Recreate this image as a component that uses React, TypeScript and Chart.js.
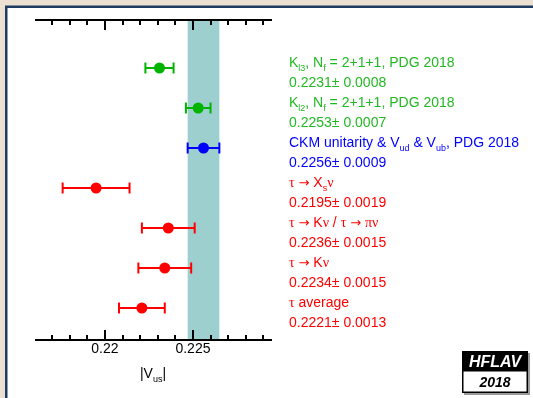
import React, { useEffect, useRef } from "react";
import { Chart, registerables } from "chart.js";

Chart.register(...registerables);

type Seg = { t: string; sub?: boolean; f?: "g" | "a" };

const measurementLabels: Seg[][] = [
  [{ t: "K" }, { t: "l3", sub: true }, { t: ", N" }, { t: "f", sub: true }, { t: " = 2+1+1, PDG 2018" }],
  [{ t: "K" }, { t: "l2", sub: true }, { t: ", N" }, { t: "f", sub: true }, { t: " = 2+1+1, PDG 2018" }],
  [{ t: "CKM unitarity & V" }, { t: "ud", sub: true }, { t: " & V" }, { t: "ub", sub: true }, { t: ", PDG 2018" }],
  [{ t: "τ", f: "g" }, { t: " " }, { t: "→", f: "a" }, { t: " X" }, { t: "s", sub: true }, { t: "ν", f: "g" }],
  [{ t: "τ", f: "g" }, { t: " " }, { t: "→", f: "a" }, { t: " K" }, { t: "ν", f: "g" }, { t: " / " }, { t: "τ", f: "g" }, { t: " " }, { t: "→", f: "a" }, { t: " " }, { t: "πν", f: "g" }],
  [{ t: "τ", f: "g" }, { t: " " }, { t: "→", f: "a" }, { t: " K" }, { t: "ν", f: "g" }],
  [{ t: "τ", f: "g" }, { t: " average" }],
];
const vusValues = [0.2231, 0.2253, 0.2256, 0.2195, 0.2236, 0.2234, 0.2221];
const vusErrors = [0.0008, 0.0007, 0.0009, 0.0019, 0.0015, 0.0015, 0.0013];
const markerColors = ["#00b400", "#00b400", "#0000ff", "#ff0000", "#ff0000", "#ff0000", "#ff0000"];
const textColors = ["#22b822", "#22b822", "#0000ff", "#ff0000", "#ff0000", "#ff0000", "#ff0000"];
const bandIndex = 2;
const majorTicks = [0.22, 0.225];
const minorTicks = [0.217, 0.218, 0.219, 0.221, 0.222, 0.223, 0.224, 0.226, 0.227, 0.228, 0.229];
const tickLabels = ["0.22", "0.225"];

const FONT = '"Liberation Sans", Arial, sans-serif';
const GREEK = '"Liberation Serif", serif';
const ARROW = '"DejaVu Sans", sans-serif';

function segFont(s: Seg, size: number) {
  const sz = s.sub ? Math.round(size * 0.65) : size;
  if (s.f === "g") return `${sz}px ${GREEK}`;
  if (s.f === "a") return `${sz - 1}px ${ARROW}`;
  return `${sz}px ${FONT}`;
}

function drawRich(ctx: CanvasRenderingContext2D, segs: Seg[], x: number, y: number, size: number, align: "left" | "center" = "left") {
  let total = 0;
  for (const s of segs) {
    ctx.font = segFont(s, size);
    total += ctx.measureText(s.t).width;
  }
  let cx = align === "center" ? x - total / 2 : x;
  ctx.textAlign = "left";
  ctx.textBaseline = "alphabetic";
  for (const s of segs) {
    ctx.font = segFont(s, size);
    ctx.fillText(s.t, cx, s.sub ? y + 4 : y);
    cx += ctx.measureText(s.t).width;
  }
}

const decorPlugin = {
  id: "decor",
  beforeDraw(chart: any) {
    const ctx = chart.ctx as CanvasRenderingContext2D;
    const { width, height } = chart;
    ctx.save();
    ctx.fillStyle = "#ebe0d2";
    ctx.fillRect(0, 0, width, height);
    ctx.fillStyle = "#1f3b62";
    ctx.fillRect(5, 5.5, width - 5, height - 5.5);
    ctx.fillStyle = "#ffffff";
    ctx.fillRect(7.5, 8, width - 7.5, height - 8);
    ctx.restore();
  },
  beforeDatasetsDraw(chart: any) {
    const ctx = chart.ctx as CanvasRenderingContext2D;
    const xs = chart.scales.x;
    const ys = chart.scales.y;
    const area = chart.chartArea;
    ctx.save();
    const b0 = xs.getPixelForValue(vusValues[bandIndex] - vusErrors[bandIndex]);
    const b1 = xs.getPixelForValue(vusValues[bandIndex] + vusErrors[bandIndex]);
    ctx.fillStyle = "#9dcfcf";
    ctx.fillRect(b0, area.top, b1 - b0, area.bottom - area.top);
    ctx.strokeStyle = "#000";
    ctx.lineWidth = 2;
    ctx.beginPath();
    ctx.moveTo(area.left, area.top);
    ctx.lineTo(area.right, area.top);
    ctx.moveTo(area.left, area.bottom);
    ctx.lineTo(area.right, area.bottom);
    for (const v of majorTicks) {
      const px = Math.round(xs.getPixelForValue(v));
      ctx.moveTo(px, area.top);
      ctx.lineTo(px, area.top + 10);
      ctx.moveTo(px, area.bottom);
      ctx.lineTo(px, area.bottom - 10);
    }
    for (const v of minorTicks) {
      const px = Math.round(xs.getPixelForValue(v));
      ctx.moveTo(px, area.top);
      ctx.lineTo(px, area.top + 5);
      ctx.moveTo(px, area.bottom);
      ctx.lineTo(px, area.bottom - 5);
    }
    ctx.stroke();
    vusValues.forEach((v, i) => {
      const y = ys.getPixelForValue(i);
      const xl = xs.getPixelForValue(v - vusErrors[i]);
      const xr = xs.getPixelForValue(v + vusErrors[i]);
      ctx.strokeStyle = markerColors[i];
      ctx.lineWidth = 2;
      ctx.beginPath();
      ctx.moveTo(xl, y);
      ctx.lineTo(xr, y);
      ctx.moveTo(xl, y - 5.5);
      ctx.lineTo(xl, y + 5.5);
      ctx.moveTo(xr, y - 5.5);
      ctx.lineTo(xr, y + 5.5);
      ctx.stroke();
    });
    ctx.restore();
  },
  afterDraw(chart: any) {
    const ctx = chart.ctx as CanvasRenderingContext2D;
    const xs = chart.scales.x;
    const ys = chart.scales.y;
    const area = chart.chartArea;
    ctx.save();
    ctx.fillStyle = "#000";
    ctx.font = `14px ${FONT}`;
    ctx.textAlign = "center";
    ctx.textBaseline = "alphabetic";
    majorTicks.forEach((v, i) => {
      ctx.fillText(tickLabels[i], xs.getPixelForValue(v), area.bottom + 13);
    });
    drawRich(ctx, [{ t: "|V" }, { t: "us", sub: true }, { t: "|" }], 153, 378, 14, "center");
    vusValues.forEach((v, i) => {
      const y = ys.getPixelForValue(i);
      ctx.fillStyle = textColors[i];
      drawRich(ctx, measurementLabels[i], 289, y - 1, 14);
      drawRich(ctx, [{ t: `${v.toFixed(4)}± ${vusErrors[i].toFixed(4)}` }], 289, y + 19, 14);
    });
    ctx.fillStyle = "#9a9a9a";
    ctx.fillRect(464, 353, 66, 42);
    ctx.fillStyle = "#000";
    ctx.fillRect(462, 351, 66, 20);
    ctx.fillStyle = "#fff";
    ctx.fillRect(463, 371, 64, 21);
    ctx.strokeStyle = "#000";
    ctx.lineWidth = 1.5;
    ctx.strokeRect(462.75, 370.75, 64.5, 21.5);
    ctx.textAlign = "center";
    ctx.font = `italic bold 16px ${FONT}`;
    ctx.fillStyle = "#fff";
    ctx.fillText("HFLAV", 495, 367);
    ctx.font = `italic bold 14px ${FONT}`;
    ctx.fillStyle = "#000";
    ctx.fillText("2018", 495, 387);
    ctx.restore();
  },
};

export default function App() {
  const ref = useRef<HTMLCanvasElement | null>(null);
  useEffect(() => {
    if (!ref.current) return;
    const chart = new Chart(ref.current, {
      type: "scatter",
      data: {
        datasets: [
          {
            data: vusValues.map((v, i) => ({ x: v, y: i })),
            pointBackgroundColor: markerColors,
            pointBorderColor: markerColors,
            pointRadius: 5.5,
            pointBorderWidth: 0,
            showLine: false,
          },
        ],
      },
      options: {
        responsive: false,
        animation: false,
        devicePixelRatio: 1,
        layout: { padding: { left: 35, right: 261, top: 20, bottom: 58 } },
        plugins: { legend: { display: false }, tooltip: { enabled: false } },
        scales: {
          x: { type: "linear", min: 0.21603, max: 0.22949, display: false },
          y: { type: "linear", min: -1.2, max: 6.8, reverse: true, display: false },
        },
        events: [],
      },
      plugins: [decorPlugin],
    });
    return () => chart.destroy();
  }, []);
  return (
    <div style={{ position: "absolute", left: 0, top: 0, width: 533, height: 398 }}>
      <canvas ref={ref} width={533} height={398} style={{ display: "block" }} />
    </div>
  );
}
